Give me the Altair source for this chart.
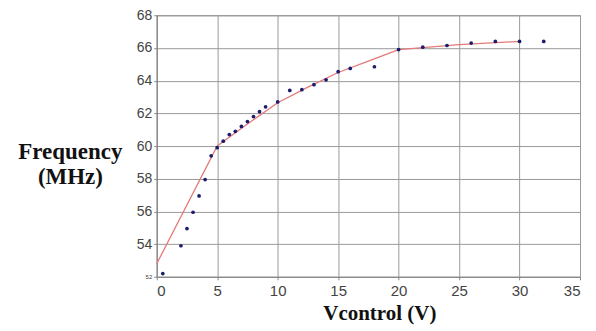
import altair as alt
import pandas as pd

# measured points
vx = [0.5, 2, 2.5, 3, 3.5, 4, 4.5, 5, 5.5, 6, 6.5, 7, 7.5, 8, 8.5, 9, 10, 11, 12, 13, 14, 15, 16, 18, 20, 22, 24, 26, 28, 30, 32]
freq = [52.2, 53.9, 54.95, 55.95, 56.95, 57.95, 59.4, 59.9, 60.3, 60.7, 60.9, 61.2, 61.5, 61.8, 62.1, 62.4, 62.7, 63.4, 63.45, 63.75, 64.05, 64.55, 64.75, 64.85, 65.9, 66.05, 66.15, 66.3, 66.4, 66.4, 66.4]

# fitted curve
fx = [0, 5, 7.5, 10, 12.5, 15, 17.5, 20, 25, 30]
fy = [52.8, 60.0, 61.35, 62.65, 63.6, 64.5, 65.2, 65.9, 66.2, 66.4]

x_ticks = [0, 5, 10, 15, 20, 25, 30, 35]
y_ticks = [52, 54, 56, 58, 60, 62, 64, 66, 68]

pts = pd.DataFrame({"v": vx, "f": freq})
fit = pd.DataFrame({"v": fx, "f": fy})

xscale = alt.Scale(domain=[0, 35], nice=False, zero=False)
yscale = alt.Scale(domain=[52, 68], nice=False, zero=False)

xaxis = alt.Axis(
    values=x_ticks,
    title="Vcontrol (V)",
    titleFont="Liberation Serif", titleFontSize=21, titleFontWeight="bold",
    titleColor="#111", titleX=223, titleY=43, titleBaseline="alphabetic",
    labelFont="Liberation Sans", labelFontSize=15, labelColor="#444",
    labelPadding=4, tickSize=3, tickColor="#888", domainColor="#888",
    gridColor="#9a9a9a", gridOpacity=1, labelOverlap=False,
)
yaxis = alt.Axis(
    values=y_ticks, tickCount=9,
    title=["Frequency", "(MHz)"],
    titleFont="Liberation Serif", titleFontSize=23, titleFontWeight="bold",
    titleColor="#111", titleAngle=0, titleAlign="center", titleBaseline="middle",
    titleX=-87, titleY=136, titleLineHeight=26,
    labelFont="Liberation Sans",
    labelFontSize={"condition": {"test": "datum.value == 52", "value": 6}, "value": 14},
    labelColor="#444", labelPadding=2, tickSize=3, tickColor="#888", domainColor="#888",
    gridColor="#9a9a9a", gridOpacity=1, labelOverlap=False,
)

line = alt.Chart(fit).mark_line(color="#e27a78", strokeWidth=1.3).encode(
    x=alt.X("v:Q", scale=xscale, axis=xaxis),
    y=alt.Y("f:Q", scale=yscale, axis=yaxis),
)
dots = alt.Chart(pts).mark_circle(color="#1c1c6e", size=14, opacity=1).encode(
    x=alt.X("v:Q", scale=xscale, axis=xaxis),
    y=alt.Y("f:Q", scale=yscale, axis=yaxis),
)

chart = (line + dots).properties(
    width=424, height=262,
    autosize=alt.AutoSizeParams(type="none"),
    padding={"left": 149, "top": 7, "right": 8, "bottom": 52},
    background="white",
).configure_view(stroke="#888", strokeWidth=1)

chart.save("out.html", embed_options={"renderer": "svg", "actions": False})
